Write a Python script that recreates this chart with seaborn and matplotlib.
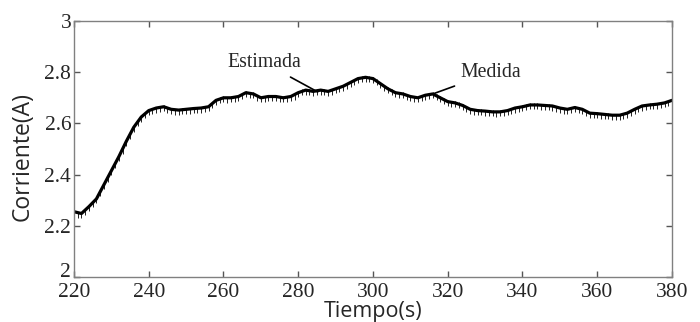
import numpy as np
import pandas as pd
import matplotlib
matplotlib.use("Agg")
import matplotlib.pyplot as plt
import seaborn as sns

# Estimated current, sampled every 2 s
t_est = list(range(220, 381, 2))
i_est = [2.255, 2.248, 2.275, 2.305, 2.36, 2.415, 2.47, 2.53, 2.585, 2.625,
         2.65, 2.66, 2.665, 2.655, 2.652, 2.655, 2.658, 2.66, 2.665, 2.69,
         2.70, 2.70, 2.705, 2.72, 2.715, 2.70, 2.705, 2.705, 2.70, 2.705,
         2.72, 2.73, 2.725, 2.73, 2.725, 2.735, 2.745, 2.76, 2.775, 2.78,
         2.775, 2.755, 2.735, 2.72, 2.715, 2.705, 2.70, 2.71, 2.715, 2.70,
         2.685, 2.68, 2.67, 2.655, 2.65, 2.648, 2.645, 2.645, 2.65, 2.66,
         2.665, 2.672, 2.672, 2.670, 2.668, 2.66, 2.655, 2.662, 2.655, 2.64,
         2.638, 2.635, 2.632, 2.632, 2.64, 2.655, 2.668, 2.672, 2.675, 2.68,
         2.69]

# Measured current, sampled every 1 s
t_med = list(range(220, 381))
i_med = [2.250, 2.243, 2.242, 2.254, 2.269, 2.284, 2.300, 2.327, 2.354, 2.381,
         2.409, 2.436, 2.464, 2.494, 2.524, 2.552, 2.579, 2.600, 2.619, 2.633,
         2.644, 2.650, 2.654, 2.657, 2.659, 2.654, 2.649, 2.646, 2.646, 2.648,
         2.649, 2.650, 2.652, 2.651, 2.654, 2.656, 2.659, 2.670, 2.684, 2.690,
         2.694, 2.693, 2.694, 2.696, 2.699, 2.707, 2.714, 2.712, 2.709, 2.700,
         2.694, 2.697, 2.699, 2.698, 2.699, 2.697, 2.694, 2.695, 2.699, 2.705,
         2.714, 2.721, 2.724, 2.721, 2.719, 2.722, 2.724, 2.722, 2.719, 2.723,
         2.729, 2.733, 2.739, 2.746, 2.754, 2.762, 2.769, 2.773, 2.774, 2.773,
         2.769, 2.760, 2.749, 2.739, 2.729, 2.721, 2.714, 2.711, 2.709, 2.704,
         2.699, 2.696, 2.694, 2.698, 2.704, 2.708, 2.709, 2.702, 2.694, 2.686,
         2.679, 2.676, 2.674, 2.670, 2.664, 2.656, 2.649, 2.645, 2.644, 2.643,
         2.642, 2.640, 2.639, 2.638, 2.639, 2.640, 2.644, 2.649, 2.654, 2.657,
         2.659, 2.663, 2.666, 2.667, 2.666, 2.665, 2.664, 2.663, 2.662, 2.658,
         2.654, 2.650, 2.649, 2.652, 2.656, 2.654, 2.649, 2.641, 2.634, 2.633,
         2.632, 2.630, 2.629, 2.627, 2.626, 2.626, 2.626, 2.628, 2.634, 2.641,
         2.649, 2.657, 2.662, 2.665, 2.666, 2.668, 2.669, 2.671, 2.674, 2.679,
         2.684]

x_ticks = [220, 240, 260, 280, 300, 320, 340, 360, 380]
y_ticks = [2, 2.2, 2.4, 2.6, 2.8, 3]
y_labels = ["2", "2.2", "2.4", "2.6", "2.8", "3"]

df_est = pd.DataFrame({"t": t_est, "i": i_est})
df_med = pd.DataFrame({"t": t_med, "i": i_med})

sns.set_style("ticks", {"xtick.direction": "in", "ytick.direction": "in"})

fig = plt.figure(figsize=(7, 3.22), dpi=100)
ax = fig.add_axes([0.1057, 0.1398, 0.8543, 0.795])

sns.lineplot(ax=ax, data=df_med, x="t", y="i", color="black", linewidth=0,
             marker="|", markersize=4.5, markeredgewidth=0.7,
             markeredgecolor="#222222")
sns.lineplot(ax=ax, data=df_est, x="t", y="i", color="black", linewidth=2.3)

ax.set_xlim(220, 380)
ax.set_ylim(2, 3)
ax.set_xticks(x_ticks)
ax.set_yticks(y_ticks)
ax.set_yticklabels(y_labels)
for lab in ax.get_xticklabels() + ax.get_yticklabels():
    lab.set_fontfamily("Liberation Serif")
    lab.set_fontsize(15.5)
ax.get_yticklabels()[0].set_verticalalignment("baseline")

# ticks drawn inside, on all four sides
ax.tick_params(axis="both", which="major", direction="in", length=4.5, width=1.0,
               color="#555555", top=True, right=True, bottom=True, left=True)
ax.tick_params(axis="x", pad=4)
ax.tick_params(axis="y", pad=2)
for sp in ax.spines.values():
    sp.set_color("#808080")
    sp.set_linewidth(1.0)

ax.set_xlabel("Tiempo(s)", family="Open Sans", fontsize=15.5)
ax.xaxis.set_label_coords(0.5, -0.095)
ax.set_ylabel("Corriente(A)", family="Open Sans", fontsize=16.5)
ax.yaxis.set_label_coords(-0.066, 0.47)

ax.annotate("Estimada", xy=(285.2, 2.723), xytext=(271, 2.836),
            ha="center", va="center", family="Liberation Serif", fontsize=14.2,
            arrowprops=dict(arrowstyle="-", color="black", lw=1.2, shrinkA=2, shrinkB=0))
ax.annotate("Medida", xy=(316, 2.715), xytext=(331.5, 2.797),
            ha="center", va="center", family="Liberation Serif", fontsize=14.2,
            arrowprops=dict(arrowstyle="-", color="black", lw=1.2, shrinkA=2, shrinkB=0))

fig.savefig("out.png", dpi=100)
